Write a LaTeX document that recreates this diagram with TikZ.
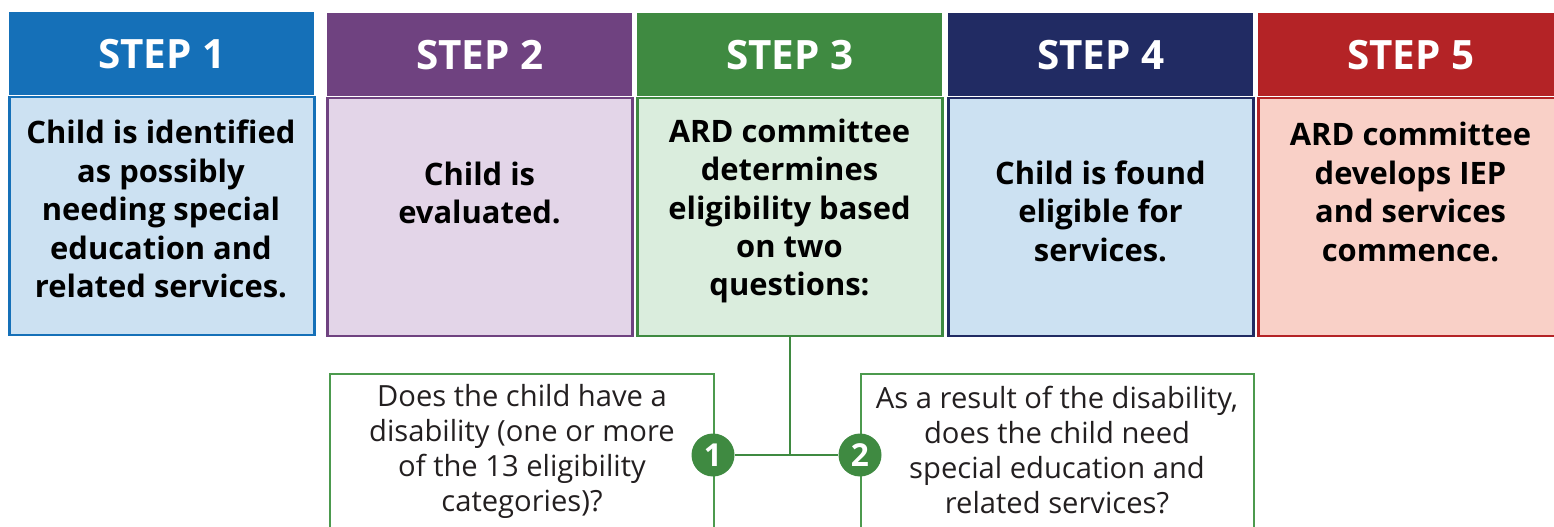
\documentclass[tikz,border=0pt]{standalone}
\usepackage{fontspec}
\setmainfont{Open Sans}
\usetikzlibrary{positioning}
\definecolor{blueA}{HTML}{1570B8}
\definecolor{blueB}{HTML}{CCE1F2}
\definecolor{purpA}{HTML}{6F4280}
\definecolor{purpB}{HTML}{E3D5E8}
\definecolor{greenA}{HTML}{3F8A41}
\definecolor{greenB}{HTML}{DAEDDD}
\definecolor{greenC}{HTML}{4C9A4E}
\definecolor{navyA}{HTML}{212B63}
\definecolor{redA}{HTML}{B42326}
\definecolor{redB}{HTML}{F9D0C7}
\definecolor{qtext}{HTML}{231F20}
\tikzset{
  head/.style={fill=#1, minimum width=6.1cm, minimum height=1.66cm,
    inner sep=0, text=white, anchor=north west,
    font=\fontsize{23}{27}\selectfont\bfseries},
  body/.style={draw=#1, line width=1.4pt, minimum width=6.1cm,
    minimum height=4.76cm, inner sep=0},
  txt/.style={align=center, inner sep=0,
    font=\fontsize{17.6}{21.9}\selectfont\bfseries},
  qbox/.style={draw=greenC, line width=1.4pt, minimum width=#1,
    minimum height=5cm, inner sep=0, anchor=north west},
  qtxt/.style={align=center, inner sep=0, text=qtext,
    font=\fontsize{16.6}{19.9}\selectfont},
  num/.style={circle, fill=greenA, minimum size=0.86cm, inner sep=0,
    text=white, font=\fontsize{18}{20}\selectfont\bfseries},
  link/.style={draw=greenA, line width=1.4pt}
}
\begin{document}
\begin{tikzpicture}[x=0.02cm,y=-0.02cm]
  \useasboundingbox (0,0) rectangle (1554,527);
  \clip (0,0) rectangle (1554,527);

  \node[head=blueA] (h1) at (9,12) {STEP 1};
  \node[body=blueA,fill=blueB,below=0pt of h1] (b1) {};
  \node[txt] (t1) at (161,209) {Child is identified\\as possibly\\needing special\\education and\\related services.};

  \node[head=purpA] (h2) at (327,13) {STEP 2};
  \node[body=purpA,fill=purpB,below=0pt of h2] (b2) {};
  \node[txt] (t2) at (479.5,193) {Child is\\evaluated.};

  \node[head=greenA] (h3) at (637,13) {STEP 3};
  \node[body=greenA,fill=greenB,below=0pt of h3] (b3) {};
  \node[txt] (t3) at (789.5,211) {ARD committee\\determines\\eligibility based\\on two\\questions:};

  \node[head=navyA] (h4) at (948,13) {STEP 4};
  \node[body=navyA,fill=blueB,below=0pt of h4] (b4) {};
  \node[txt] (t4) at (1100.5,211) {Child is found\\eligible for\\services.};

  \node[head=redA] (h5) at (1258,13) {STEP 5};
  \node[body=redA,fill=redB,below=0pt of h5] (b5) {};
  \node[txt] (t5) at (1410.5,192) {ARD committee\\develops IEP\\and services\\commence.};

  % the two questions
  \node[qbox=7.68cm] (q1) at (329,373) {};
  \node[qtxt] (s1) at (522,451) {Does the child have a\\disability (one or more\\of the 13 eligibility\\categories)?};
  \node[qbox=7.86cm] (q2) at (860,373) {};
  \node[qtxt] (s2) at (1057,450) {As a result of the disability,\\does the child need\\special education and\\related services?};

  \node[num] (n1) at (713,455) {1};
  \node[num] (n2) at (860,455) {2};

  \draw[link] (b3.south) -- (b3.south |- n1.center);
  \draw[link] (n1) -- (n2);
\end{tikzpicture}
\end{document}
